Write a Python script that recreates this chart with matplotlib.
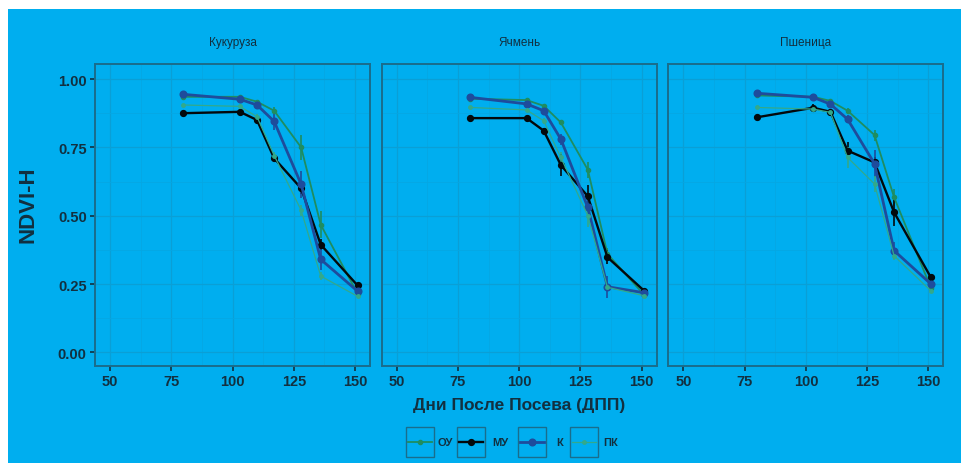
import matplotlib
matplotlib.use("Agg")
import matplotlib.pyplot as plt
from matplotlib.patches import Rectangle

plt.rcParams["font.family"] = ["Liberation Sans", "DejaVu Sans"]

# =====================
# Данные
# =====================
crops = ["Кукуруза", "Ячмень", "Пшеница"]
days = [80, 103, 110, 117, 128, 136, 151]
series = ["ОУ", "МУ", "К", "ПК"]

ndvi_kukuruza = {
    "ОУ": [0.935, 0.935, 0.917, 0.884, 0.750, 0.467, 0.215],
    "МУ": [0.875, 0.880, 0.850, 0.710, 0.600, 0.394, 0.245],
    "К":  [0.944, 0.926, 0.905, 0.845, 0.615, 0.340, 0.224],
    "ПК": [0.905, 0.900, 0.862, 0.720, 0.520, 0.279, 0.205],
}
ndvi_yachmen = {
    "ОУ": [0.928, 0.923, 0.902, 0.841, 0.668, 0.360, 0.210],
    "МУ": [0.857, 0.857, 0.811, 0.685, 0.571, 0.348, 0.225],
    "К":  [0.933, 0.909, 0.884, 0.780, 0.530, 0.240, 0.218],
    "ПК": [0.896, 0.887, 0.847, 0.713, 0.500, 0.238, 0.207],
}
ndvi_pshenica = {
    "ОУ": [0.940, 0.935, 0.920, 0.884, 0.795, 0.567, 0.235],
    "МУ": [0.860, 0.895, 0.880, 0.738, 0.695, 0.512, 0.274],
    "К":  [0.948, 0.933, 0.908, 0.853, 0.690, 0.372, 0.250],
    "ПК": [0.896, 0.890, 0.878, 0.713, 0.616, 0.353, 0.225],
}

err_kukuruza = {
    "ОУ": [0.005, 0.008, 0.008, 0.012, 0.045, 0.050, 0.008],
    "МУ": [0.005, 0.005, 0.010, 0.010, 0.020, 0.020, 0.008],
    "К":  [0.005, 0.006, 0.010, 0.030, 0.050, 0.040, 0.010],
    "ПК": [0.005, 0.005, 0.010, 0.012, 0.020, 0.015, 0.008],
}
err_yachmen = {
    "ОУ": [0.005, 0.008, 0.008, 0.010, 0.030, 0.020, 0.008],
    "МУ": [0.005, 0.005, 0.010, 0.040, 0.040, 0.025, 0.008],
    "К":  [0.005, 0.006, 0.010, 0.020, 0.030, 0.040, 0.010],
    "ПК": [0.005, 0.005, 0.010, 0.020, 0.040, 0.010, 0.008],
}
err_pshenica = {
    "ОУ": [0.005, 0.008, 0.008, 0.010, 0.020, 0.030, 0.008],
    "МУ": [0.010, 0.015, 0.010, 0.030, 0.020, 0.050, 0.010],
    "К":  [0.005, 0.006, 0.010, 0.015, 0.050, 0.030, 0.010],
    "ПК": [0.005, 0.005, 0.010, 0.040, 0.030, 0.015, 0.008],
}

ndvi_all = [ndvi_kukuruza, ndvi_yachmen, ndvi_pshenica]
err_all = [err_kukuruza, err_yachmen, err_pshenica]

# =====================
# Стиль
# =====================
bg = "#00aeef"
frame_col = "#1a6d8c"
text_col = "#123040"
colors = {"ОУ": "#1f8d60", "МУ": "#03090c", "К": "#1e4c9c", "ПК": "#33a98a"}
lws = {"ОУ": 1.3, "МУ": 1.7, "К": 2.0, "ПК": 0.9}
msz = {"ОУ": 3.0, "МУ": 4.2, "К": 4.8, "ПК": 2.5}

W, H = 962, 464
fig = plt.figure(figsize=(W / 100, H / 100), dpi=100, facecolor=bg)
# белые поля сверху и слева
fig.patches.append(Rectangle((0, 1 - 10 / H), 1, 10 / H, transform=fig.transFigure,
                             facecolor="white", edgecolor="none", zorder=-5))
fig.patches.append(Rectangle((0, 0), 8 / W, 1, transform=fig.transFigure,
                             facecolor="white", edgecolor="none", zorder=-5))

panel_w, panel_top, panel_bot = 275, 65, 367
for i, crop in enumerate(crops):
    left = 95 + i * 286.7
    ax = fig.add_axes([left / W, 1 - panel_bot / H, panel_w / W, (panel_bot - panel_top) / H])
    ax.set_facecolor(bg)
    ax.set_xlim(43.9, 156.1)
    ax.set_ylim(-0.05, 1.055)
    ax.set_xticks([50, 75, 100, 125, 150])
    ax.set_xticks([62.5, 87.5, 112.5, 137.5], minor=True)
    ax.set_yticks([0, 0.25, 0.5, 0.75, 1.0])
    ax.set_yticks([0.125, 0.375, 0.625, 0.875], minor=True)
    ax.grid(which="major", color="#0a9fd6", lw=0.9)
    ax.grid(which="minor", color="#05a7e4", lw=0.6)
    ax.set_axisbelow(True)
    for sp in ax.spines.values():
        sp.set_color(frame_col)
        sp.set_linewidth(1.4)
    ax.tick_params(which="minor", length=0)
    ax.tick_params(which="major", length=3.5, width=1.2, color=text_col,
                   labelcolor=text_col, labelsize=10.5, pad=2.5)
    for lab in ax.get_xticklabels() + ax.get_yticklabels():
        lab.set_fontweight("bold")
    ax.set_yticklabels(["0.00", "0.25", "0.50", "0.75", "1.00"], fontweight="bold")
    if i > 0:
        ax.tick_params(axis="y", left=False, labelleft=False)

    for s in series:
        ax.errorbar(days, ndvi_all[i][s], yerr=err_all[i][s], color=colors[s],
                    lw=lws[s], marker="o", ms=msz[s], elinewidth=1.2, capsize=0,
                    zorder=3)

    ax.text(0.5, 1.073, crop, transform=ax.transAxes, ha="center", va="center",
            fontsize=8.5, color=text_col)

fig.text(28 / W, 1 - 205 / H, "NDVI-H", rotation=90, ha="center", va="center",
         fontsize=16, fontweight="bold", color=text_col)
fig.text(519 / W, 1 - 406 / H, "Дни После Посева (ДПП)", ha="center", va="center",
         fontsize=12.5, fontweight="bold", color=text_col)

# =====================
# Легенда
# =====================
lax = fig.add_axes([400 / W, 1 - 462 / H, 225 / W, 38 / H])
lax.set_xlim(400, 625)
lax.set_ylim(462, 424)
lax.axis("off")
key_left = [406, 457, 518, 570]
label_x = [437, 492, 556, 603]
for s, kx, tx in zip(series, key_left, label_x):
    lax.add_patch(Rectangle((kx, 428), 28, 30, facecolor="none",
                            edgecolor=frame_col, lw=1.0))
    lax.plot([kx + 2, kx + 26], [443, 443], color=colors[s], lw=lws[s])
    lax.plot([kx + 14], [443], marker="o", ms=msz[s], color=colors[s])
    lax.text(tx, 443, s, ha="left", va="center", fontsize=8, fontweight="bold",
             color=text_col)

fig.savefig("out.png", dpi=100, facecolor=bg)
